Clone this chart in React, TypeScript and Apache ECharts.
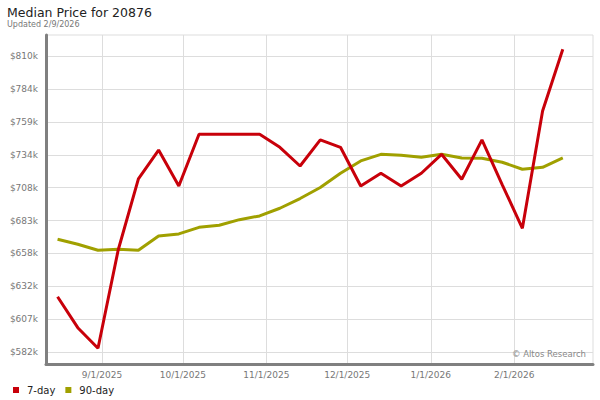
import { useEffect, useRef } from "react";
import * as echarts from "echarts";

const pointDates = [
  "2025-08-15T12:00:00Z", "2025-08-23T00:00:00Z", "2025-08-30T12:00:00Z", "2025-09-07T00:00:00Z",
  "2025-09-14T12:00:00Z", "2025-09-22T00:00:00Z", "2025-09-29T12:00:00Z", "2025-10-07T00:00:00Z",
  "2025-10-14T12:00:00Z", "2025-10-22T00:00:00Z", "2025-10-29T12:00:00Z", "2025-11-06T00:00:00Z",
  "2025-11-13T12:00:00Z", "2025-11-21T00:00:00Z", "2025-11-28T12:00:00Z", "2025-12-06T00:00:00Z",
  "2025-12-13T12:00:00Z", "2025-12-21T00:00:00Z", "2025-12-28T12:00:00Z", "2026-01-05T00:00:00Z",
  "2026-01-12T12:00:00Z", "2026-01-20T00:00:00Z", "2026-01-27T12:00:00Z", "2026-02-04T00:00:00Z",
  "2026-02-11T12:00:00Z", "2026-02-19T00:00:00Z",
];

// values in $k
const sevenDay = [
  624.8, 600.9, 585.0, 660.8, 715.6, 737.9, 710.2, 750.1, 750.1, 750.1, 750.1, 740.0, 725.6,
  745.7, 740.0, 710.2, 720.0, 710.2, 720.0, 734.6, 715.4, 745.7, 711.3, 677.5, 768.0, 815.6,
];
const ninetyDay = [
  669.1, 665.2, 660.6, 661.4, 660.6, 671.6, 673.2, 678.3, 679.9, 684.2, 687.1, 693.0, 700.5,
  709.0, 720.0, 729.5, 734.6, 733.9, 732.3, 734.6, 731.8, 731.5, 728.5, 723.1, 724.6, 731.8,
];

const yTickValues = [582.2, 607.53, 632.87, 658.2, 683.53, 708.87, 734.2, 759.53, 784.87, 810.2];
const monthTicks = ["2025-09-01", "2025-10-01", "2025-11-01", "2025-12-01", "2026-01-01", "2026-02-01"];

const FONT = "DejaVu Sans";

export default function App() {
  const ref = useRef<HTMLDivElement>(null);
  useEffect(() => {
    if (!ref.current) return;
    const chart = echarts.init(ref.current, null, { renderer: "svg" });
    const toMs = (s: string) => Date.parse(s.length === 10 ? s + "T00:00:00Z" : s);
    const monthMs = monthTicks.map(toMs);
    chart.setOption({
      animation: false,
      backgroundColor: "#ffffff",
      textStyle: { fontFamily: FONT },
      graphic: [
        {
          type: "text", left: 7, top: 6,
          style: { text: "Median Price for 20876", fontSize: 12.5, fontFamily: FONT, fill: "#222" },
        },
        {
          type: "text", left: 7, top: 20,
          style: { text: "Updated 2/9/2026", fontSize: 8, fontFamily: FONT, fill: "#777" },
        },
        {
          type: "text", right: 14, top: 349, z: 10,
          style: { text: "© Altos Research", fontSize: 8.5, fontFamily: FONT, fill: "#888" },
        },
      ],
      legend: {
        left: 8, top: 380,
        icon: "rect", itemWidth: 6, itemHeight: 6, itemGap: 10,
        textStyle: { fontSize: 10, color: "#222", fontFamily: FONT, padding: [0, 0, 0, 3] },
        data: ["7-day", "90-day"],
      },
      grid: {
        left: 46, right: 7, top: 35, bottom: 36,
        show: true, borderColor: "#dddddd", borderWidth: 1,
      },
      xAxis: {
        type: "value",
        min: Date.UTC(2025, 7, 11, 5),
        max: Date.UTC(2026, 2, 2, 5),
        axisLine: { show: true, lineStyle: { color: "#808080", width: 3 } },
        axisTick: { show: false, customValues: monthMs },
        splitLine: { show: true, lineStyle: { color: "#dddddd", width: 1 } },
        axisLabel: {
          customValues: monthMs,
          margin: 6,
          fontSize: 9,
          color: "#777",
          fontFamily: FONT,
          formatter: (v: number) => {
            const d = new Date(v);
            return `${d.getUTCMonth() + 1}/${d.getUTCDate()}/${d.getUTCFullYear()}`;
          },
        },
      },
      yAxis: {
        type: "value",
        min: 572.9,
        max: 826.6,
        axisLine: { show: true, lineStyle: { color: "#808080", width: 3 } },
        axisTick: { show: false, customValues: yTickValues },
        splitLine: { show: true, lineStyle: { color: "#dddddd", width: 1 } },
        axisLabel: {
          customValues: yTickValues,
          margin: 8,
          fontSize: 9,
          color: "#777",
          fontFamily: FONT,
          formatter: (v: number) => `$${Math.floor(v + 1e-6)}k`,
        },
      },
      series: [
        {
          name: "7-day",
          type: "line",
          data: pointDates.map((d, i) => [toMs(d), sevenDay[i]]),
          showSymbol: false,
          symbol: "none",
          lineStyle: { color: "#c8000a", width: 3 },
          itemStyle: { color: "#c8000a" },
          z: 3,
        },
        {
          name: "90-day",
          type: "line",
          data: pointDates.map((d, i) => [toMs(d), ninetyDay[i]]),
          showSymbol: false,
          symbol: "none",
          lineStyle: { color: "#a0a000", width: 3 },
          itemStyle: { color: "#a0a000" },
          z: 2,
        },
      ],
    });
    return () => chart.dispose();
  }, []);
  return <div ref={ref} style={{ width: 600, height: 400, position: "absolute", left: 0, top: 0 }} />;
}
